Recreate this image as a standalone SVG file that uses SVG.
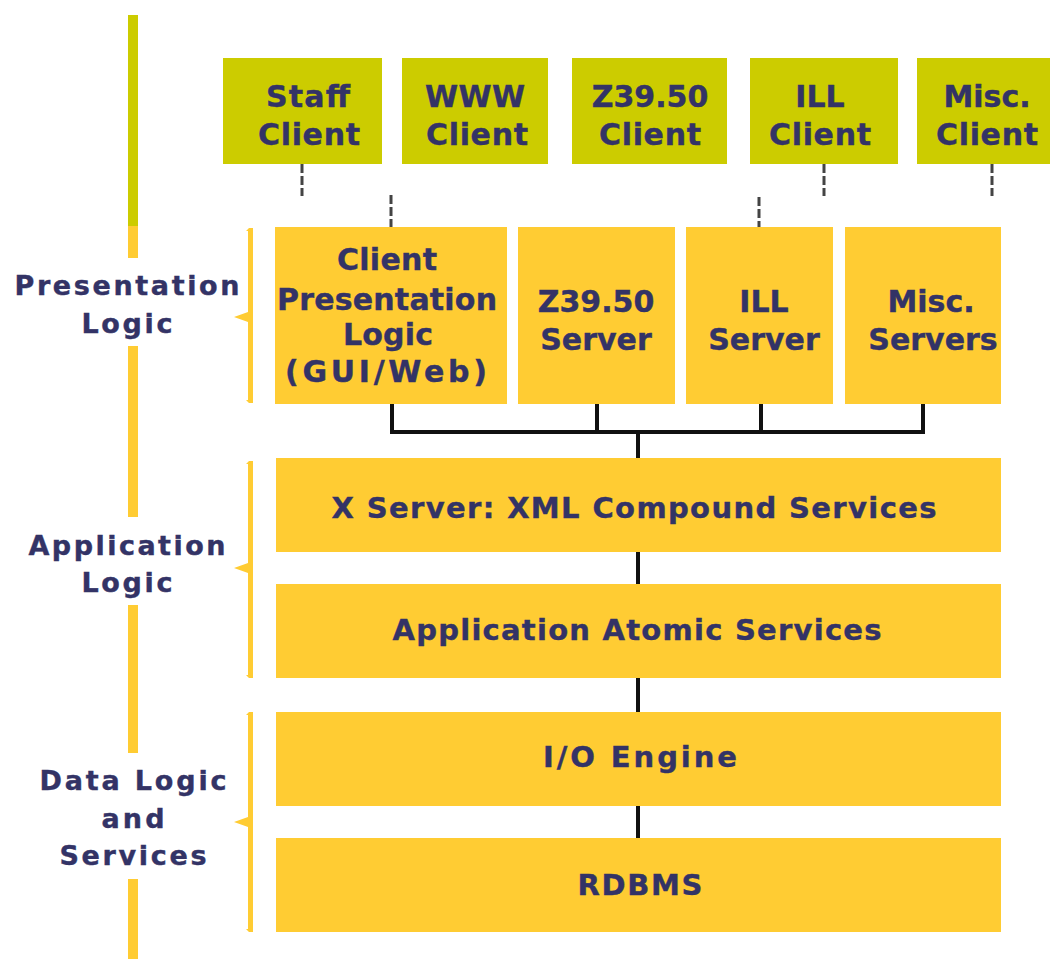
<svg xmlns="http://www.w3.org/2000/svg" width="1050" height="959" viewBox="0 0 1050 959">
<style>
.cl{fill:#CCCC00}
.gd{fill:#FFCC33}
.t{font-family:"DejaVu Sans","Verdana",sans-serif;font-weight:bold;fill:#333366;text-anchor:middle;stroke:#333366;stroke-width:0.4}
.b{font-size:30px}
.l{font-size:27px}
.w{font-size:29px}
.bus{stroke:#111;stroke-width:4;fill:none}
.dash{stroke:#444;stroke-width:3;stroke-dasharray:9,3;fill:none}
</style>
<rect width="1050" height="959" fill="#fff"/>
<g id="axis">
<rect x="128" y="15" width="10" height="211" class="cl"/>
<rect x="128" y="226" width="10" height="32" class="gd"/>
<rect x="128" y="346" width="10" height="171" class="gd"/>
<rect x="128" y="605" width="10" height="148" class="gd"/>
<rect x="128" y="879" width="10" height="80" class="gd"/>
</g>
<g id="label-presentation">
<text class="t l" x="127" y="295" textLength="225" lengthAdjust="spacing">Presentation</text>
<text class="t l" x="127" y="333" textLength="91" lengthAdjust="spacing">Logic</text>
<path class="gd" d="M246 231 L249 228 L253 228 L253 403 L249 403 L246 400 L248 400 L248 322 L234 317 L248 312 L248 231 Z"/>
</g>
<g id="label-application">
<text class="t l" x="127" y="555" textLength="197" lengthAdjust="spacing">Application</text>
<text class="t l" x="127" y="592" textLength="91" lengthAdjust="spacing">Logic</text>
<path class="gd" d="M246 464 L249 461 L253 461 L253 678 L249 678 L246 675 L248 675 L248 573 L234 568 L248 563 L248 464 Z"/>
</g>
<g id="label-data">
<text class="t l" x="133" y="790" textLength="187" lengthAdjust="spacing">Data Logic</text>
<text class="t l" x="133" y="828" textLength="63" lengthAdjust="spacing">and</text>
<text class="t l" x="133" y="865" textLength="147" lengthAdjust="spacing">Services</text>
<path class="gd" d="M246 715 L249 712 L253 712 L253 932 L249 932 L246 929 L248 929 L248 827 L234 822 L248 817 L248 715 Z"/>
</g>
<g id="connectors">
<line class="dash" x1="302" y1="164" x2="302" y2="196"/>
<line class="dash" x1="391" y1="195" x2="391" y2="227"/>
<line class="dash" x1="759" y1="197" x2="759" y2="227"/>
<line class="dash" x1="824" y1="164" x2="824" y2="196"/>
<line class="dash" x1="992" y1="164" x2="992" y2="196"/>
<path class="bus" d="M392 404 V432 H923 V404 M597 404 V432 M761 404 V432 M638 432 V458"/>
<line class="bus" x1="638" y1="552" x2="638" y2="584"/>
<line class="bus" x1="638" y1="677" x2="638" y2="712"/>
<line class="bus" x1="638" y1="806" x2="638" y2="838"/>
</g>
<g id="staff-client">
<rect x="223" y="58" width="159" height="106" class="cl"/>
<text class="t b" x="308" y="107" textLength="84" lengthAdjust="spacing">Staff</text>
<text class="t b" x="309" y="145" textLength="102" lengthAdjust="spacing">Client</text>
</g>
<g id="www-client">
<rect x="402" y="58" width="146" height="106" class="cl"/>
<text class="t b" x="475" y="107" textLength="100" lengthAdjust="spacing">WWW</text>
<text class="t b" x="477" y="145" textLength="102" lengthAdjust="spacing">Client</text>
</g>
<g id="z3950-client">
<rect x="572" y="58" width="155" height="106" class="cl"/>
<text class="t b" x="650" y="107">Z39.50</text>
<text class="t b" x="650" y="145" textLength="102" lengthAdjust="spacing">Client</text>
</g>
<g id="ill-client">
<rect x="750" y="58" width="148" height="106" class="cl"/>
<text class="t b" x="820" y="107">ILL</text>
<text class="t b" x="820" y="145" textLength="102" lengthAdjust="spacing">Client</text>
</g>
<g id="misc-client">
<rect x="917" y="58" width="140" height="106" class="cl"/>
<text class="t b" x="987" y="107">Misc.</text>
<text class="t b" x="987" y="145" textLength="102" lengthAdjust="spacing">Client</text>
</g>
<g id="client-presentation">
<rect x="275" y="227" width="232" height="177" class="gd"/>
<text class="t b" x="387" y="270" textLength="100" lengthAdjust="spacing">Client</text>
<text class="t b" x="387" y="310" textLength="220" lengthAdjust="spacing">Presentation</text>
<text class="t b" x="388" y="345" textLength="90" lengthAdjust="spacing">Logic</text>
<text class="t b" x="386" y="382" textLength="202" lengthAdjust="spacing">(GUI/Web)</text>
</g>
<g id="z3950-server">
<rect x="518" y="227" width="157" height="177" class="gd"/>
<text class="t b" x="596" y="312">Z39.50</text>
<text class="t b" x="596" y="350">Server</text>
</g>
<g id="ill-server">
<rect x="686" y="227" width="147" height="177" class="gd"/>
<text class="t b" x="764" y="312">ILL</text>
<text class="t b" x="764" y="350">Server</text>
</g>
<g id="misc-servers">
<rect x="845" y="227" width="156" height="177" class="gd"/>
<text class="t b" x="931" y="312">Misc.</text>
<text class="t b" x="933" y="350">Servers</text>
</g>
<g id="x-server">
<rect x="276" y="458" width="725" height="94" class="gd"/>
<text class="t w" x="634" y="518" textLength="605" lengthAdjust="spacing">X Server: XML Compound Services</text>
</g>
<g id="atomic">
<rect x="276" y="584" width="725" height="94" class="gd"/>
<text class="t w" x="637" y="640" textLength="489" lengthAdjust="spacing">Application Atomic Services</text>
</g>
<g id="io-engine">
<rect x="276" y="712" width="725" height="94" class="gd"/>
<text class="t w" x="640" y="767" textLength="194" lengthAdjust="spacing">I/O Engine</text>
</g>
<g id="rdbms">
<rect x="276" y="838" width="725" height="94" class="gd"/>
<text class="t w" x="640" y="895" textLength="125" lengthAdjust="spacing">RDBMS</text>
</g>
</svg>
